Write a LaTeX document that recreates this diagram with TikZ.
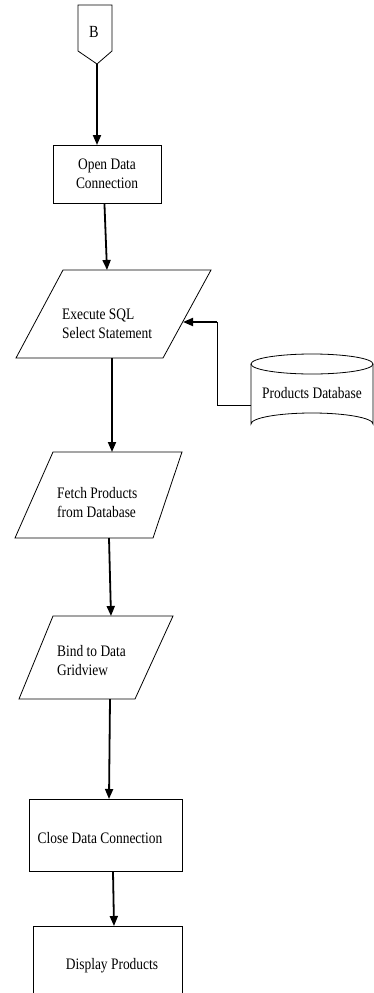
\documentclass[tikz,border=0pt]{standalone}
\usepackage{fontspec}
\setmainfont{Liberation Serif}[FakeStretch=0.84]
\usetikzlibrary{arrows.meta}
\tikzset{
  box/.style={draw, line width=0.9pt},
  shapeline/.style={line width=0.8pt},
  lbl/.style={font=\fontsize{16}{19}\selectfont, align=left, inner sep=0pt},
  flow/.style={line width=1.8pt, -{Triangle[length=10pt, width=8pt]}},
  thin link/.style={line width=0.9pt},
}
\begin{document}
\begin{tikzpicture}[x=1pt, y=-1pt]
\useasboundingbox (0,0) rectangle (374,993);
\clip (0,0) rectangle (374,993);

% off-page connector B
\draw[shapeline] (78,5) -- (112,5) -- (112,51) -- (97,64) -- (78,51) -- cycle;
\node[lbl, font=\fontsize{17}{19}\selectfont] (conB) at (94,32) {B};
\coordinate (conBtip) at (97,64);

% Open Data Connection
\node[box, minimum width=108pt, minimum height=58pt, anchor=north west, inner sep=0pt] (open) at (53,145) {};
\node[lbl, align=center] (openTxt) at (107,174) {Open Data\\Connection};

% Execute SQL Select Statement (parallelogram)
\draw[shapeline] (63,270) coordinate (exTop) -- (211,270) -- (163,358) -- (16,358) -- cycle;
\coordinate (exIn) at (107,270);
\coordinate (exOut) at (112,358);
\coordinate (exRight) at (183,322);
\node[lbl, anchor=west] (exTxt) at (62,324) {Execute SQL\\Select Statement};

% Products Database (cylinder)
\draw[shapeline] (251,364) -- (251,424) arc[start angle=180, end angle=360, x radius=61, y radius=11]
  -- (373,364);
\draw[shapeline] (312,364) ellipse[x radius=61, y radius=10];
\node[lbl] (db) at (312,393) {Products Database};
\coordinate (dbLeft) at (251,405);
\coordinate (bend) at (217,405);
\coordinate (bendTop) at (217,322);

% Fetch Products from Database
\draw[shapeline] (53,452) -- (182,452) -- (153,538) -- (15,538) -- cycle;
\coordinate (feIn) at (112,452);
\coordinate (feOut) at (109,538);
\node[lbl, anchor=west] (feTxt) at (57,503) {Fetch Products\\from Database};

% Bind to Data Gridview
\draw[shapeline] (53,616) -- (173,616) -- (135,699) -- (19,699) -- cycle;
\coordinate (biIn) at (111,616);
\coordinate (biOut) at (110,699);
\node[lbl, anchor=west] (biTxt) at (57,661) {Bind to Data\\Gridview};

% Close Data Connection
\node[box, minimum width=153pt, minimum height=72pt, anchor=north west, inner sep=0pt] (close) at (29,799) {};
\node[lbl] (closeTxt) at (100,838) {Close Data Connection};

% Display Products (runs off the lower edge)
\node[box, minimum width=149pt, minimum height=90pt, anchor=north west, inner sep=0pt] (disp) at (33,926) {};
\node[lbl] (dispTxt) at (112,966) {Display Products};

% connectors
\draw[flow] (conBtip) -- (open.north -| conBtip);
\draw[flow] ([xshift=-3pt]open.south) -- (exIn);
\draw[flow] (exOut) -- (feIn);
\draw[flow] (feOut) -- (biIn);
\draw[flow] (biOut) -- ([xshift=-1pt]close.north -| biOut);
\draw[flow] (close.south -| 113,0) -- (disp.north -| 114,0);
\draw[thin link] (dbLeft) -- (bend) -- (bendTop);
\draw[flow] (bendTop) -- (exRight);
\end{tikzpicture}
\end{document}
